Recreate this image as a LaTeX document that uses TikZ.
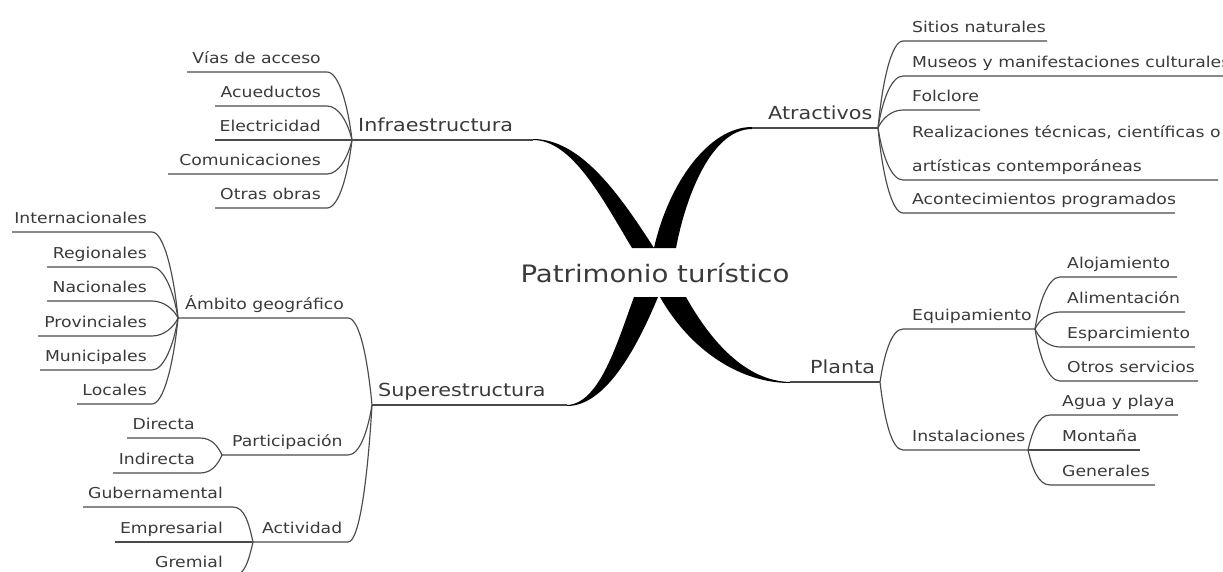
\documentclass[tikz,border=0pt]{standalone}
\usepackage{fontspec}
\setmainfont{DejaVu Sans}[FakeStretch=1.15]
\definecolor{txt}{HTML}{3A3A3A}
\definecolor{lncol}{HTML}{4A4A4A}
\newcommand\leaffont{\fontsize{15}{34}\selectfont}
\newcommand\branchfont{\fontsize{18}{22}\selectfont}
\newcommand\rootfont{\fontsize{24}{28}\selectfont}
% left leaf: name, text, textRightX, lineY, startX, endX, hubY, hubname
\newcommand\mmL[8]{%
  \node[leaf,anchor=base east] (#1) at (#3,{#4-9}) {#2};
  \draw[ln] (#5,#4) -- (#6,#4) .. controls +(12,0) and +(-4,{0.5*(#4-#7)}) .. (#8);
}
% right leaf: name, text, textLeftX, lineY, startX, endX, hubY, hubname
\newcommand\mmR[8]{%
  \node[leaf,anchor=base west] (#1) at (#3,{#4-9}) {#2};
  \draw[ln] (#8) .. controls +(4,{0.5*(#4-#7)}) and +(-12,0) .. (#5,#4) -- (#6,#4);
}
\begin{document}
\begin{tikzpicture}[x=1pt,y=-1pt,
  leaf/.style={font=\leaffont,text=txt,inner sep=0pt},
  branch/.style={font=\branchfont,text=txt,inner sep=0pt},
  rootnode/.style={font=\rootfont,text=txt,inner sep=0pt},
  ln/.style={draw=lncol,line width=1.15pt},
  mainln/.style={draw=lncol,line width=1.4pt},
  taper/.style={fill=black,draw=none}]
\useasboundingbox (0,0) rectangle (1223,571);
\clip (0,0) rectangle (1223,571);

% ---------- centre ----------
\node[rootnode,anchor=base] (root) at (655,282) {Patrimonio turístico};
\fill[taper] (533,140) .. controls (572,140) and (602,198) .. (632,248) -- (654,248) .. controls (618,192) and (580,139) .. (533,139) -- cycle;
\fill[taper] (752,129) .. controls (712,129) and (686,195) .. (676,248) -- (654,248) .. controls (668,185) and (708,127) .. (752,127) -- cycle;
\fill[taper] (567,405) .. controls (600,404) and (618,340) .. (634,297) -- (658,297) .. controls (636,350) and (605,406) .. (567,406) -- cycle;
\fill[taper] (790,382) .. controls (745,381) and (710,340) .. (686,297) -- (660,297) .. controls (690,350) and (740,383) .. (790,383) -- cycle;

% ---------- hubs ----------
\coordinate (hI) at (352,140);
\coordinate (eI) at (533,140);
\coordinate (hA) at (878,128);
\coordinate (eA) at (752,128);
\coordinate (hS) at (372,405);
\coordinate (eS) at (567,405);
\coordinate (hG) at (178,318);
\coordinate (hP) at (222,455);
\coordinate (hT) at (253,542);
\coordinate (hL) at (880,382);
\coordinate (eL) at (790,382);
\coordinate (hE) at (1035,329);
\coordinate (hN) at (1028,450);

% ---------- Infraestructura ----------
\node[branch,anchor=base west] (infra) at (358,131) {Infraestructura};
\draw[mainln] (hI) -- (eI);
\mmL{vias}{Vías de acceso}{321}{72}{187}{327}{140}{hI}
\mmL{acue}{Acueductos}{321}{106}{215}{327}{140}{hI}
\mmL{elec}{Electricidad}{321}{140}{215}{327}{140}{hI}
\mmL{comu}{Comunicaciones}{321}{174}{168}{327}{140}{hI}
\mmL{otras}{Otras obras}{321}{208}{215}{327}{140}{hI}

% ---------- Atractivos ----------
\node[branch,anchor=base west] (atr) at (768,119) {Atractivos};
\draw[mainln] (eA) -- (hA);
\mmR{sitios}{Sitios naturales}{912}{41}{903}{1047}{128}{hA}
\mmR{museos}{Museos y manifestaciones culturales}{912}{76}{903}{1230}{128}{hA}
\mmR{folc}{Folclore}{912}{110}{903}{980}{128}{hA}
\node[leaf,anchor=base west,align=left] (real) at (912,171) {Realizaciones técnicas, científicas o\\artísticas contemporáneas};
\draw[ln] (hA) .. controls +(4,26) and +(-12,0) .. (903,180) -- (1218,180);
\mmR{acon}{Acontecimientos programados}{912}{213}{903}{1175}{128}{hA}

% ---------- Superestructura ----------
\node[branch,anchor=base west] (super) at (378,396) {Superestructura};
\draw[mainln] (hS) -- (eS);

\node[leaf,anchor=base west] (ambito) at (185,309) {Ámbito geográfico};
\draw[ln] (hG) -- (348,318) .. controls +(12,0) and +(-4,-43) .. (hS);
\mmL{inter}{Internacionales}{147}{232}{12}{152}{318}{hG}
\mmL{regio}{Regionales}{147}{267}{47}{152}{318}{hG}
\mmL{nacio}{Nacionales}{147}{301}{47}{152}{318}{hG}
\mmL{provi}{Provinciales}{147}{336}{38}{152}{318}{hG}
\mmL{munic}{Municipales}{147}{370}{40}{152}{318}{hG}
\mmL{locales}{Locales}{147}{404}{77}{152}{318}{hG}

\node[leaf,anchor=base west] (parti) at (232,446) {Participación};
\draw[ln] (hP) -- (348,455) .. controls +(12,0) and +(-4,25) .. (hS);
\mmL{direc}{Directa}{195}{438}{127}{200}{455}{hP}
\mmL{indir}{Indirecta}{195}{473}{113}{200}{455}{hP}

\node[leaf,anchor=base west] (activ) at (262,533) {Actividad};
\draw[ln] (hT) -- (348,542) .. controls +(12,0) and +(-4,68) .. (hS);
\mmL{guber}{Gubernamental}{223}{507}{83}{233}{542}{hT}
\mmL{empre}{Empresarial}{223}{542}{115}{233}{542}{hT}
\mmL{grem}{Gremial}{223}{576}{150}{233}{542}{hT}

% ---------- Planta ----------
\node[branch,anchor=base west] (planta) at (810,373) {Planta};
\draw[mainln] (eL) -- (hL);

\node[leaf,anchor=base west] (equip) at (912,320) {Equipamiento};
\draw[ln] (hL) .. controls +(4,-26) and +(-12,0) .. (903,329) -- (hE);
\mmR{aloj}{Alojamiento}{1067}{277}{1060}{1177}{329}{hE}
\mmR{alim}{Alimentación}{1067}{312}{1060}{1185}{329}{hE}
\mmR{espar}{Esparcimiento}{1067}{347}{1060}{1195}{329}{hE}
\mmR{otros}{Otros servicios}{1067}{381}{1060}{1198}{329}{hE}

\node[leaf,anchor=base west] (insta) at (912,441) {Instalaciones};
\draw[ln] (hL) .. controls +(4,34) and +(-12,0) .. (903,450) -- (hN);
\mmR{agua}{Agua y playa}{1062}{415}{1050}{1178}{450}{hN}
\mmR{monta}{Montaña}{1062}{450}{1050}{1140}{450}{hN}
\mmR{gener}{Generales}{1062}{485}{1050}{1155}{450}{hN}
\end{tikzpicture}
\end{document}
